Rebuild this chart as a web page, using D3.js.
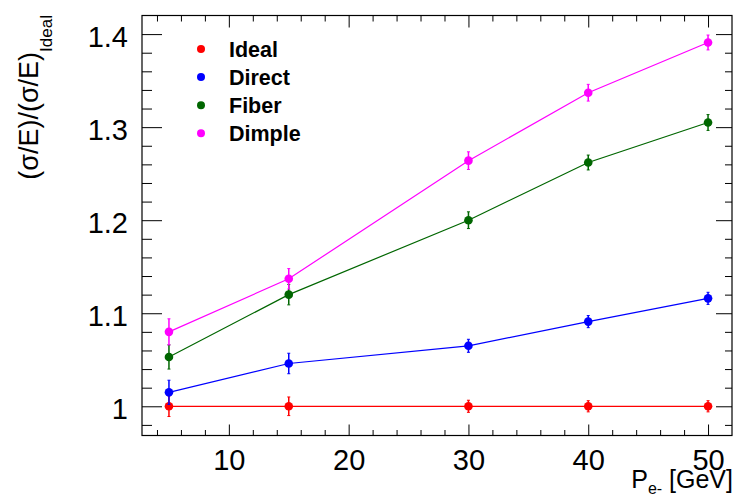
<!DOCTYPE html>
<html>
<head>
<meta charset="utf-8">
<script src="https://cdn.jsdelivr.net/npm/d3@7"></script>
<style>
  html, body { margin: 0; padding: 0; background: #fff; }
  svg { display: block; font-family: "Liberation Sans", Arial, Helvetica, sans-serif; }
</style>
</head>
<body>
<svg id="chart" width="735" height="499"></svg>
<script>
// Beam momentum points (GeV)
const momenta = [5, 15, 30, 40, 50];

// Resolution ratio relative to the ideal case, per readout option
const idealValues  = [1.000, 1.000, 1.000, 1.000, 1.000];
const idealErrors  = [0.011, 0.010, 0.0065, 0.006, 0.006];
const directValues = [1.015, 1.046, 1.065, 1.091, 1.116];
const directErrors = [0.013, 0.011, 0.007, 0.0065, 0.0065];
const fiberValues  = [1.053, 1.120, 1.200, 1.262, 1.305];
const fiberErrors  = [0.013, 0.011, 0.009, 0.008, 0.0085];
const dimpleValues = [1.080, 1.137, 1.264, 1.337, 1.391];
const dimpleErrors = [0.014, 0.011, 0.0095, 0.009, 0.008];

const seriesNames  = ["Ideal", "Direct", "Fiber", "Dimple"];
const seriesColors = ["#ff0000", "#0000ff", "#006600", "#ff00ff"];

// Axis ticks
const xMajorTicks = [10, 20, 30, 40, 50];
const xTickLabels = ["10", "20", "30", "40", "50"];
const yMajorTicks = [1.0, 1.1, 1.2, 1.3, 1.4];
const yTickLabels = ["1", "1.1", "1.2", "1.3", "1.4"];

const series = seriesNames.map((name, i) => ({
  name,
  color: seriesColors[i],
  values: [idealValues, directValues, fiberValues, dimpleValues][i],
  errors: [idealErrors, directErrors, fiberErrors, dimpleErrors][i]
}));

const svg = d3.select("#chart");
const frame = { left: 142, right: 732, top: 15.5, bottom: 435.5 };

const x = d3.scaleLinear().domain([2.75, 52.0]).range([frame.left, frame.right]);
const y = d3.scaleLinear().domain([0.9686, 1.42]).range([frame.bottom, frame.top]);

const xMinorTicks = d3.range(4, 52, 2).filter(v => v % 10 !== 0);
const yMinorTicks = d3.range(0.98, 1.41, 0.02)
  .map(v => +v.toFixed(2))
  .filter(v => !yMajorTicks.some(m => Math.abs(m - v) < 1e-6));

function styleAxis(g) {
  g.select(".domain").remove();
  g.selectAll(".tick line").attr("stroke", "#000").attr("stroke-width", 1);
}

// Bottom axis: major ticks with labels, minor ticks without
svg.append("g")
  .attr("transform", `translate(0,${frame.bottom})`)
  .call(d3.axisBottom(x).tickValues(xMajorTicks).tickSize(-11).tickPadding(14)
    .tickFormat((d, i) => xTickLabels[i]))
  .call(styleAxis)
  .call(g => g.selectAll("text").attr("font-size", 29).attr("fill", "#000")
    .attr("font-family", "Liberation Sans, Arial, sans-serif"));
svg.append("g")
  .attr("transform", `translate(0,${frame.bottom})`)
  .call(d3.axisBottom(x).tickValues(xMinorTicks).tickSize(-5.5).tickFormat(""))
  .call(styleAxis);

// Top axis (ticks only)
svg.append("g")
  .attr("transform", `translate(0,${frame.top})`)
  .call(d3.axisTop(x).tickValues(xMajorTicks).tickSize(-12).tickFormat(""))
  .call(styleAxis);
svg.append("g")
  .attr("transform", `translate(0,${frame.top})`)
  .call(d3.axisTop(x).tickValues(xMinorTicks).tickSize(-6).tickFormat(""))
  .call(styleAxis);

// Left axis
svg.append("g")
  .attr("transform", `translate(${frame.left},0)`)
  .call(d3.axisLeft(y).tickValues(yMajorTicks).tickSize(-20).tickPadding(14)
    .tickFormat((d, i) => yTickLabels[i]))
  .call(styleAxis)
  .call(g => g.selectAll("text").attr("font-size", 29).attr("fill", "#000")
    .attr("dy", "0.42em")
    .attr("font-family", "Liberation Sans, Arial, sans-serif"));
svg.append("g")
  .attr("transform", `translate(${frame.left},0)`)
  .call(d3.axisLeft(y).tickValues(yMinorTicks).tickSize(-10).tickFormat(""))
  .call(styleAxis);

// Right axis (ticks only)
svg.append("g")
  .attr("transform", `translate(${frame.right},0)`)
  .call(d3.axisRight(y).tickValues(yMajorTicks).tickSize(-16).tickFormat(""))
  .call(styleAxis);
svg.append("g")
  .attr("transform", `translate(${frame.right},0)`)
  .call(d3.axisRight(y).tickValues(yMinorTicks).tickSize(-7).tickFormat(""))
  .call(styleAxis);

// Frame
svg.append("rect")
  .attr("x", frame.left).attr("y", frame.top)
  .attr("width", frame.right - frame.left).attr("height", frame.bottom - frame.top)
  .attr("fill", "none").attr("stroke", "#000").attr("stroke-width", 1.2);

// Data: connecting lines, error bars, markers
const line = d3.line().x((d, i) => x(momenta[i])).y(d => y(d));

series.forEach(s => {
  const g = svg.append("g").attr("class", "series");
  g.append("path")
    .attr("d", line(s.values))
    .attr("fill", "none")
    .attr("stroke", s.color)
    .attr("stroke-width", 1.2);

  const pts = s.values.map((v, i) => ({ x: momenta[i], v, e: s.errors[i] }));
  const eb = g.selectAll("g.err").data(pts).enter().append("g").attr("class", "err");
  eb.append("line")
    .attr("x1", d => x(d.x)).attr("x2", d => x(d.x))
    .attr("y1", d => y(d.v - d.e)).attr("y2", d => y(d.v + d.e))
    .attr("stroke", s.color).attr("stroke-width", 1.5);
  [-1, 1].forEach(sign => {
    eb.append("line")
      .attr("x1", d => x(d.x) - 1.5).attr("x2", d => x(d.x) + 1.5)
      .attr("y1", d => y(d.v + sign * d.e)).attr("y2", d => y(d.v + sign * d.e))
      .attr("stroke", s.color).attr("stroke-width", 1);
  });
  g.selectAll("circle").data(pts).enter().append("circle")
    .attr("cx", d => x(d.x)).attr("cy", d => y(d.v))
    .attr("r", 4.3).attr("fill", s.color);
});

// Legend
const legend = svg.append("g");
series.forEach((s, i) => {
  const cy = 49 + i * 28.1;
  legend.append("circle").attr("cx", 201).attr("cy", cy).attr("r", 4).attr("fill", s.color);
  legend.append("text")
    .attr("x", 229).attr("y", cy + 8)
    .attr("font-size", 21.5).attr("font-weight", "bold").attr("fill", "#000")
    .text(s.name);
});

// X axis title
const xTitle = svg.append("text")
  .attr("x", 733).attr("y", 488)
  .attr("text-anchor", "end")
  .attr("font-size", 25).attr("fill", "#000");
xTitle.append("tspan").text("P");
xTitle.append("tspan").attr("font-size", 16).attr("dy", 6).text("e-");
xTitle.append("tspan").attr("dy", -6).text(" [GeV]");

// Y axis title
const yTitle = svg.append("text")
  .attr("transform", "translate(38,15) rotate(-90)")
  .attr("text-anchor", "end")
  .attr("font-size", 27).attr("fill", "#000");
yTitle.append("tspan").text("(σ/E)/(σ/E)");
yTitle.append("tspan").attr("font-size", 17).attr("dy", 14).text("Ideal");
</script>
</body>
</html>
